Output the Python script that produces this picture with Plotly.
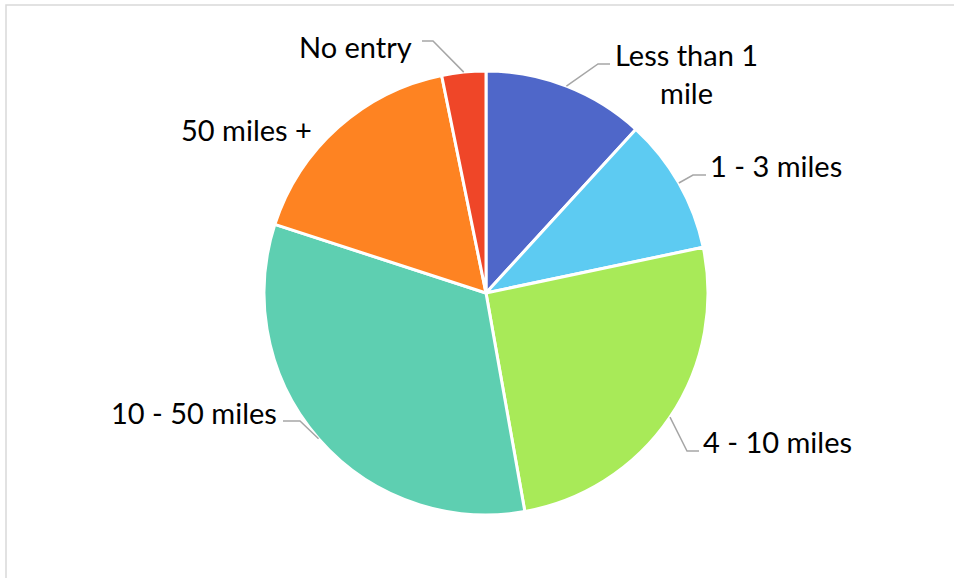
import math
import plotly.graph_objects as go

categories = ["Less than 1 mile", "1 - 3 miles", "4 - 10 miles", "10 - 50 miles", "50 miles +", "No entry"]
display_labels = ["Less than 1<br>mile", "1 - 3 miles", "4 - 10 miles", "10 - 50 miles", "50 miles +", "No entry"]
values = [11.8, 9.9, 25.5, 32.8, 16.8, 3.2]
colors = ["#4F67C9", "#5DCBF2", "#A8EA58", "#5ECFB1", "#FE8322", "#EF4628"]

W, H = 954, 578
CX, CY, R = 486, 293, 222

def px(x):
    return x / W

def py(y):
    return 1 - y / H

fig = go.Figure(go.Pie(
    labels=categories,
    values=values,
    sort=False,
    direction="clockwise",
    rotation=0,
    marker=dict(colors=colors, line=dict(color="white", width=3)),
    textinfo="none",
    hoverinfo="label+percent",
    domain=dict(x=[px(CX - R), px(CX + R)], y=[py(CY + R), py(CY - R)]),
    showlegend=False,
))

# label placement (layout) : text center, elbow point, end point of leader
label_pos = [
    dict(tx=686, ty=74, elbow=(598, 64), end=(610, 64)),
    dict(tx=776, ty=165, elbow=(693, 175), end=(706, 175)),
    dict(tx=777, ty=441, elbow=(687, 451), end=(699, 451)),
    dict(tx=194, ty=412, elbow=(300, 421), end=(283, 421)),
    dict(tx=246, ty=129, elbow=None, end=None),
    dict(tx=355, ty=46, elbow=(433, 41), end=(422, 41)),
]

total = sum(values)
cum = 0
shapes = [dict(type="rect", xref="paper", yref="paper",
               x0=px(6), y0=py(H + 10), x1=px(W + 10), y1=py(5),
               line=dict(color="#D9D9D9", width=1.5), fillcolor="rgba(0,0,0,0)", layer="below")]
annotations = []
for v, lab, pos in zip(values, display_labels, label_pos):
    mid = (cum + v / 2) / total * 2 * math.pi
    cum += v
    annotations.append(dict(x=px(pos["tx"]), y=py(pos["ty"]), xref="paper", yref="paper",
                            text=lab, showarrow=False, xanchor="center", yanchor="middle",
                            font=dict(family="Lato, Carlito, Calibri, sans-serif", size=29, color="#000000")))
    if pos["elbow"] is not None:
        sx = CX + R * math.sin(mid)
        sy = CY - R * math.cos(mid)
        ex, ey = pos["elbow"]
        fx, fy = pos["end"]
        shapes.append(dict(type="path", xref="paper", yref="paper",
                           path=f"M {px(sx)} {py(sy)} L {px(ex)} {py(ey)} L {px(fx)} {py(fy)}",
                           line=dict(color="#A6A6A6", width=1.5)))

fig.update_layout(
    width=W, height=H,
    margin=dict(l=0, r=0, t=0, b=0),
    paper_bgcolor="white",
    plot_bgcolor="white",
    shapes=shapes,
    annotations=annotations,
)

fig.write_html("out.html")
